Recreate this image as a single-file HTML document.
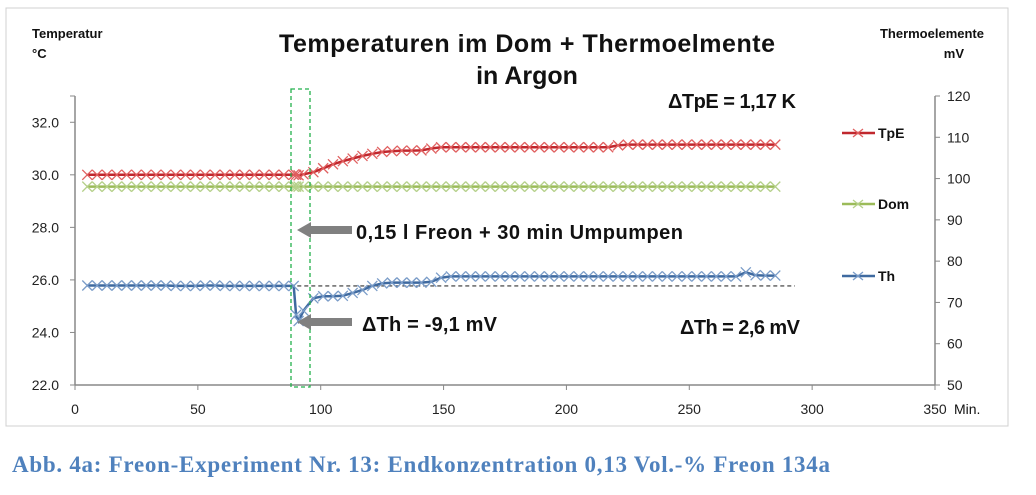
<!DOCTYPE html>
<html><head><meta charset="utf-8"><style>
html,body{margin:0;padding:0;background:#fff;}
body{width:1036px;height:490px;overflow:hidden;position:relative;font-family:"Liberation Sans",sans-serif;}
</style></head><body>
<svg id="chart" width="1036" height="490" viewBox="0 0 1036 490" xmlns="http://www.w3.org/2000/svg" font-family="Liberation Sans, sans-serif">
<rect x="6" y="8" width="1002" height="418" fill="none" stroke="#d0d0d0" stroke-width="1"/>
<text x="527" y="52" font-size="25" font-weight="bold" text-anchor="middle" fill="#111" textLength="496">Temperaturen im Dom + Thermoelmente</text>
<text x="527" y="84" font-size="25" font-weight="bold" text-anchor="middle" fill="#111">in Argon</text>
<text x="32" y="38" font-size="13" font-weight="bold" fill="#111">Temperatur</text>
<text x="32" y="58" font-size="13" font-weight="bold" fill="#111">°C</text>
<text x="984" y="38" font-size="13" font-weight="bold" fill="#111" text-anchor="end">Thermoelemente</text>
<text x="964" y="58" font-size="13" font-weight="bold" fill="#111" text-anchor="end">mV</text>
<g id="axes"></g>
<g id="marks"></g>
<rect x="291" y="89" width="19" height="298" fill="none" stroke="#22b14c" stroke-width="1.3" stroke-dasharray="4,3"/>
<g fill="#808080"><rect x="310" y="226" width="42" height="8"/><polygon points="297,230 311,222 311,238"/></g>
<g fill="#808080"><rect x="310" y="318" width="42" height="8"/><polygon points="297,322 311,314 311,330"/></g>
<text x="356" y="239" font-size="20" font-weight="bold" fill="#111" textLength="327">0,15 l Freon + 30 min Umpumpen</text>
<text x="362" y="331" font-size="20" font-weight="bold" fill="#111" textLength="135">ΔTh = -9,1 mV</text>
<text x="680" y="334" font-size="20" font-weight="bold" fill="#111" textLength="120">ΔTh = 2,6 mV</text>
<text x="668" y="108" font-size="20" font-weight="bold" fill="#111" textLength="128">ΔTpE = 1,17 K</text>
<text x="954" y="414" font-size="14" fill="#111">Min.</text>
<text x="12" y="472" font-size="23" font-weight="bold" fill="#4f81bd" style="font-family:'Liberation Serif',serif" textLength="818">Abb. 4a: Freon-Experiment Nr. 13: Endkonzentration 0,13 Vol.-% Freon 134a</text>
</svg>
<script>
const times=[5,9,13,17,21,25,29,33,37,41,45,49,53,57,61,65,69,73,77,81,85,89,90,91,93,97,101,105,109,113,117,121,125,129,133,137,141,145,149,153,157,161,165,169,173,177,181,185,189,193,197,201,205,209,213,217,221,225,229,233,237,241,245,249,253,257,261,265,269,273,277,281,285];
const tpe=[30,30,30,30,30,30,30,30,30,30,30,30,30,30,30,30,30,30,30,30,30,30,30,29.98,30.02,30.1,30.25,30.4,30.52,30.62,30.72,30.8,30.87,30.9,30.92,30.92,30.93,31,31.05,31.05,31.05,31.05,31.05,31.05,31.05,31.05,31.05,31.05,31.05,31.05,31.05,31.05,31.05,31.05,31.05,31.05,31.12,31.15,31.15,31.15,31.15,31.15,31.15,31.15,31.15,31.15,31.15,31.15,31.15,31.15,31.15,31.15,31.15];
const dom=[29.55,29.55,29.55,29.55,29.55,29.55,29.55,29.55,29.55,29.55,29.55,29.55,29.55,29.55,29.55,29.55,29.55,29.55,29.55,29.55,29.55,29.55,29.55,29.55,29.55,29.55,29.55,29.55,29.55,29.55,29.55,29.55,29.55,29.55,29.55,29.55,29.55,29.55,29.55,29.55,29.55,29.55,29.55,29.55,29.55,29.55,29.55,29.55,29.55,29.55,29.55,29.55,29.55,29.55,29.55,29.55,29.55,29.55,29.55,29.55,29.55,29.55,29.55,29.55,29.55,29.55,29.55,29.55,29.55,29.55,29.55,29.55,29.55];
const th=[74.1,74.1,74.1,74.1,74.1,74.1,74.1,74.1,74.1,74,74,74,74.1,74.1,74,74,74,74,74,74,74,74,67,65.5,68,71,71.5,71.5,71.6,72.3,73,74,74.6,74.8,74.8,74.8,74.8,75,76,76.3,76.3,76.3,76.3,76.3,76.3,76.3,76.3,76.3,76.3,76.3,76.3,76.3,76.3,76.3,76.3,76.3,76.3,76.3,76.3,76.3,76.3,76.3,76.3,76.3,76.3,76.3,76.3,76.3,76.3,77.3,76.6,76.5,76.5];
const thBaseline=[74.0,74.0];
const baselineTimes=[5,293];
const xTicks=[0,50,100,150,200,250,300,350];
const yLeftTicks=[22,24,26,28,30,32];
const yRightTicks=[50,60,70,80,90,100,110,120];

const X0=75,X1=935,YB=385,YT=96;
const x=t=>X0+(t/350)*(X1-X0);
const yL=v=>YB-(v-22)/(33-22)*(YB-YT);
const yR=v=>YB-(v-50)/(120-50)*(YB-YT);
const NS='http://www.w3.org/2000/svg';
function mk(tag,attrs,parent){const e=document.createElementNS(NS,tag);for(const k in attrs)e.setAttribute(k,attrs[k]);parent.appendChild(e);return e;}
const ax=document.getElementById('axes'),mg=document.getElementById('marks');
const axisColor='#888';
let l=mk('line',{x1:X0,y1:YT,x2:X0,y2:YB,stroke:axisColor,'stroke-width':1.5},ax);


l=mk('line',{x1:X1,y1:YT,x2:X1,y2:YB,stroke:axisColor,'stroke-width':1.5},ax);


l=mk('line',{x1:X0,y1:YB,x2:X1,y2:YB,stroke:axisColor,'stroke-width':1.5},ax);


xTicks.forEach(t=>{
  mk('line',{x1:x(t),y1:YB,x2:x(t),y2:YB+5,stroke:axisColor},ax);
  const tx=mk('text',{x:x(t),y:YB+29,'font-size':14,'text-anchor':'middle',fill:'#222'},ax);
  tx.textContent=t;
  
  
});
yLeftTicks.forEach(v=>{
  mk('line',{x1:X0-5,y1:yL(v),x2:X0,y2:yL(v),stroke:axisColor},ax);
  const tx=mk('text',{x:X0-16,y:yL(v)+5,'font-size':14,'text-anchor':'end',fill:'#222'},ax);
  tx.textContent=v.toFixed(1);
  
  
});
mk('line',{x1:X0-5,y1:YT,x2:X0,y2:YT,stroke:axisColor},ax);
yRightTicks.forEach(v=>{
  mk('line',{x1:X1,y1:yR(v),x2:X1+5,y2:yR(v),stroke:axisColor},ax);
  const tx=mk('text',{x:X1+12,y:yR(v)+5,'font-size':14,fill:'#222'},ax);
  tx.textContent=v;
  
  
});
l=mk('line',{x1:x(baselineTimes[0]),y1:yR(thBaseline[0]),x2:x(baselineTimes[1]),y2:yR(thBaseline[1]),stroke:'#333','stroke-width':1.2,'stroke-dasharray':'4,3'},mg);


function series(vals,yf,color,mcolor,name){
  const g=mk('g',{},mg);
  
  
  const pts=times.map((t,i)=>x(t).toFixed(1)+','+yf(vals[i]).toFixed(1)).join(' ');
  const pl=mk('polyline',{points:pts,fill:'none',stroke:color,'stroke-width':2.5},g);
  
  
  times.forEach((t,i)=>{
    const cx=x(t),cy=yf(vals[i]),s=5;
    const p=mk('path',{d:`M${cx-s},${cy-s}L${cx+s},${cy+s}M${cx-s},${cy+s}L${cx+s},${cy-s}`,stroke:mcolor,'stroke-width':1.3,fill:'none'},g);
    
    
  });
}
series(dom,yL,'#9bbb59','#b5d08a','dom');
series(tpe,yL,'#c0272d','#e06060','tpe');
series(th,yR,'#3f6aa0','#7a9cc8','th');
const leg=[['TpE','#c0272d','#e06060',133],['Dom','#9bbb59','#b5d08a',204],['Th','#3f6aa0','#7a9cc8',276]];
leg.forEach(([n,c,mc,yy])=>{
  const g=mk('g',{},mg);
  
  
  mk('line',{x1:842,y1:yy,x2:875,y2:yy,stroke:c,'stroke-width':2.5},g);
  mk('path',{d:`M853,${yy-4}L863,${yy+4}M853,${yy+4}L863,${yy-4}`,stroke:mc,'stroke-width':1.3},g);
  const t=mk('text',{x:878,y:yy+5,'font-size':14,'font-weight':'bold',fill:'#111'},g);
  t.textContent=n;
});
</script>
</body></html>
